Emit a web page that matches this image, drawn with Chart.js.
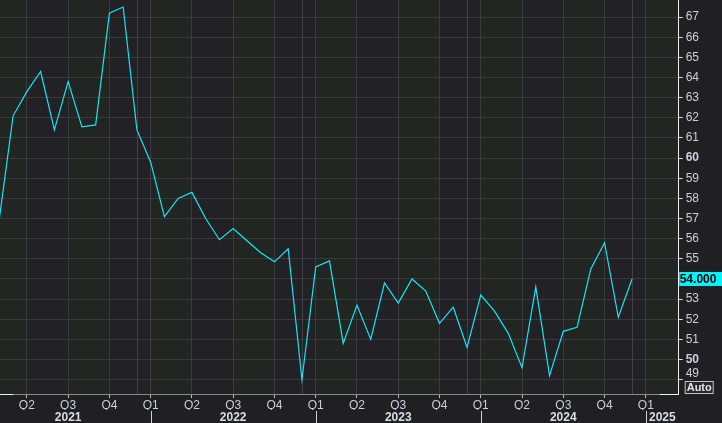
<!DOCTYPE html>
<html>
<head>
<meta charset="utf-8">
<script src="https://cdn.jsdelivr.net/npm/chart.js@4.4.1/dist/chart.umd.min.js"></script>
<style>
  html, body { margin: 0; padding: 0; background: #202022; }
  #wrap { width: 722px; height: 423px; }
</style>
</head>
<body>
<div id="wrap"><canvas id="c" width="722" height="423"></canvas></div>
<script>
// ---- data ----
const months = [
  '2021-02','2021-03','2021-04','2021-05','2021-06','2021-07','2021-08','2021-09','2021-10','2021-11','2021-12',
  '2022-01','2022-02','2022-03','2022-04','2022-05','2022-06','2022-07','2022-08','2022-09','2022-10','2022-11','2022-12',
  '2023-01','2023-02','2023-03','2023-04','2023-05','2023-06','2023-07','2023-08','2023-09','2023-10','2023-11','2023-12',
  '2024-01','2024-02','2024-03','2024-04','2024-05','2024-06','2024-07','2024-08','2024-09','2024-10','2024-11','2024-12'
];
const values = [
  57.0, 62.1, 63.3, 64.3, 61.4, 63.8, 61.55, 61.65, 67.2, 67.5, 61.4,
  59.8, 57.1, 58.0, 58.3, 57.0, 55.95, 56.5, 55.9, 55.3, 54.85, 55.5, 49.0,
  54.6, 54.9, 50.8, 52.7, 51.0, 53.8, 52.8, 54.0, 53.4, 51.8, 52.6, 50.6,
  53.2, 52.4, 51.3, 49.6, 53.6, 49.2, 51.4, 51.6, 54.5, 55.8, 52.1, 54.0
];
const quarterTickMonths = ['2021-04','2021-07','2021-10','2022-01','2022-04','2022-07','2022-10','2023-01','2023-04','2023-07','2023-10','2024-01','2024-04','2024-07','2024-10','2025-01'];
const quarterLabels = ['Q2','Q3','Q4','Q1','Q2','Q3','Q4','Q1','Q2','Q3','Q4','Q1','Q2','Q3','Q4','Q1'];
const yearLabels = ['2021','2022','2023','2024','2025'];
const yearLabelMonths = ['2021-07','2022-07','2023-07','2024-07','2025-02.2'];
const yTickValues = [49,50,51,52,53,54,55,56,57,58,59,60,61,62,63,64,65,66,67];
const shiftedTick = 49;
const topTick = 68;
const lastLabel = '54.000';

// month string -> month index (0 = Jan 2021)
function mi(s) {
  const p = s.split('-');
  return (parseInt(p[0], 10) - 2021) * 12 + (parseFloat(p[1]) - 1);
}
const points = months.map((m, i) => ({ x: mi(m), y: values[i] }));
const quarterTicks = quarterTickMonths.map(mi);
const yearTicks = yearLabelMonths.map(mi);

const FONT = "'Liberation Sans', Arial, sans-serif";
const TXT = '#c8d0df';

const decorPlugin = {
  id: 'decor',
  beforeDraw(chart) {
    const { ctx, chartArea: a, scales } = chart;
    const xs = scales.x;
    ctx.save();
    ctx.fillStyle = '#202022';
    ctx.fillRect(0, 0, chart.width, chart.height);
    for (let q = 0; q < 20; q++) {
      const s = q * 3, e = s + 3;
      const x0 = Math.max(a.left, xs.getPixelForValue(s));
      const x1 = Math.min(a.right, xs.getPixelForValue(e));
      if (x1 <= x0) continue;
      ctx.fillStyle = (q % 2 === 0) ? '#222622' : '#222126';
      ctx.fillRect(x0, a.top, x1 - x0, a.bottom - a.top);
    }
    ctx.restore();
  },
  beforeDatasetsDraw(chart) {
    const { ctx, chartArea: a, scales } = chart;
    const xs = scales.x;
    ctx.save();
    ctx.strokeStyle = '#424244';
    ctx.lineWidth = 1;
    ['2021-12','2022-12','2023-12','2024-12'].forEach(m => {
      const x = Math.round(xs.getPixelForValue(mi(m))) + 0.5;
      ctx.beginPath(); ctx.moveTo(x, a.top); ctx.lineTo(x, a.bottom); ctx.stroke();
    });
    ctx.restore();
  },
  afterDraw(chart) {
    const { ctx, chartArea: a, scales } = chart;
    const xs = scales.x, ys = scales.y, x2 = scales.x2;
    ctx.save();
    ctx.strokeStyle = '#d0d0d0';
    ctx.lineWidth = 1;
    ['2022-01','2023-01','2024-01','2025-01'].forEach(m => {
      const x = Math.round(xs.getPixelForValue(mi(m))) + 0.5;
      ctx.beginPath(); ctx.moveTo(x, x2.top + 1); ctx.lineTo(x, chart.height); ctx.stroke();
    });
    ctx.strokeStyle = '#f0f0f0';
    ctx.beginPath();
    ctx.moveTo(a.left, a.bottom + 0.5); ctx.lineTo(xs.getPixelForValue(2), a.bottom + 0.5);
    ctx.moveTo(xs.getPixelForValue(49), a.bottom + 0.5); ctx.lineTo(a.right, a.bottom + 0.5);
    ctx.stroke();
    ctx.fillStyle = TXT;
    ctx.font = '12px ' + FONT;
    ctx.textBaseline = 'middle';
    ctx.textAlign = 'left';
    // lowest tick label sits a little higher, clear of the Auto box
    ctx.fillText(String(shiftedTick), a.right + 7, ys.getPixelForValue(shiftedTick) - 6);
    // top tick label, partly cut by the window edge
    ctx.fillText(String(topTick), a.right + 7, ys.getPixelForValue(topTick));
    const ty = Math.round(ys.getPixelForValue(topTick)) + 0.5;
    ctx.strokeStyle = '#e0e0e0';
    ctx.beginPath(); ctx.moveTo(a.right, ty); ctx.lineTo(a.right + 4, ty); ctx.stroke();
    // last value label
    const lv = values[values.length - 1];
    const y = ys.getPixelForValue(lv);
    ctx.fillStyle = '#00f4ff';
    ctx.fillRect(a.right + 0.5, y - 7, chart.width - a.right, 14);
    ctx.fillStyle = '#000000';
    ctx.font = 'bold 12px ' + FONT;
    ctx.fillText(lastLabel, a.right + 1, y + 0.5);
    // Auto box
    ctx.fillStyle = '#28282c';
    ctx.fillRect(a.right + 6.5, a.bottom - 12.5, 28, 12);
    ctx.strokeStyle = '#c4c4c4';
    ctx.strokeRect(a.right + 6.5, a.bottom - 12.5, 28, 12);
    ctx.fillStyle = '#e2e6ee';
    ctx.font = 'bold 11px ' + FONT;
    ctx.fillText('Auto', a.right + 8, a.bottom - 6);
    ctx.restore();
  }
};

new Chart(document.getElementById('c'), {
  type: 'line',
  data: {
    datasets: [{
      data: points,
      borderColor: '#14e6f4',
      borderWidth: 1.2,
      pointRadius: 0,
      tension: 0,
      fill: false
    }]
  },
  options: {
    responsive: false,
    animation: false,
    devicePixelRatio: 1,
    layout: { padding: 0 },
    plugins: { legend: { display: false }, tooltip: { enabled: false } },
    scales: {
      x: {
        type: 'linear',
        position: 'bottom',
        weight: 0,
        min: 1.047,
        max: 50.39,
        afterBuildTicks: s => { s.ticks = quarterTicks.map(v => ({ value: v })); },
        afterFit: s => { s.height = 16; s.paddingLeft = 0; s.paddingRight = 0; },
        ticks: {
          autoSkip: false, maxRotation: 0, padding: 0,
          color: TXT,
          font: { family: FONT, size: 12 },
          callback: (v, i) => quarterLabels[i]
        },
        grid: { color: '#3a3a3c', tickColor: '#bcbcbc', tickLength: 4, lineWidth: 1 },
        border: { color: '#8a8a8a', width: 1 }
      },
      x2: {
        type: 'linear',
        position: 'bottom',
        weight: 1,
        min: 1.047,
        max: 50.39,
        afterBuildTicks: s => { s.ticks = yearTicks.map(v => ({ value: v })); },
        afterFit: s => { s.height = 13; s.paddingLeft = 0; s.paddingRight = 0; },
        ticks: {
          autoSkip: false, maxRotation: 0, padding: 0,
          color: '#d8dde8',
          font: { family: FONT, size: 12, weight: 'bold' },
          callback: (v, i) => yearLabels[i]
        },
        grid: { display: false, drawTicks: false },
        border: { display: false }
      },
      y: {
        position: 'right',
        min: 48.29,
        max: 67.85,
        afterBuildTicks: s => { s.ticks = yTickValues.map(v => ({ value: v })); },
        afterFit: s => { s.width = 43.3; s.paddingTop = 0; s.paddingBottom = 0; },
        ticks: {
          autoSkip: false, padding: 3,
          color: TXT,
          font: ctx => ({ family: FONT, size: 12, weight: (ctx.tick && ctx.tick.value % 10 === 0) ? 'bold' : 'normal' }),
          callback: v => (v === shiftedTick ? '' : String(v))
        },
        grid: { color: '#3a3a3c', tickColor: '#e0e0e0', tickLength: 4, lineWidth: 1 },
        border: { color: '#f0f0f0', width: 1 }
      }
    }
  },
  plugins: [decorPlugin]
});
</script>
</body>
</html>
